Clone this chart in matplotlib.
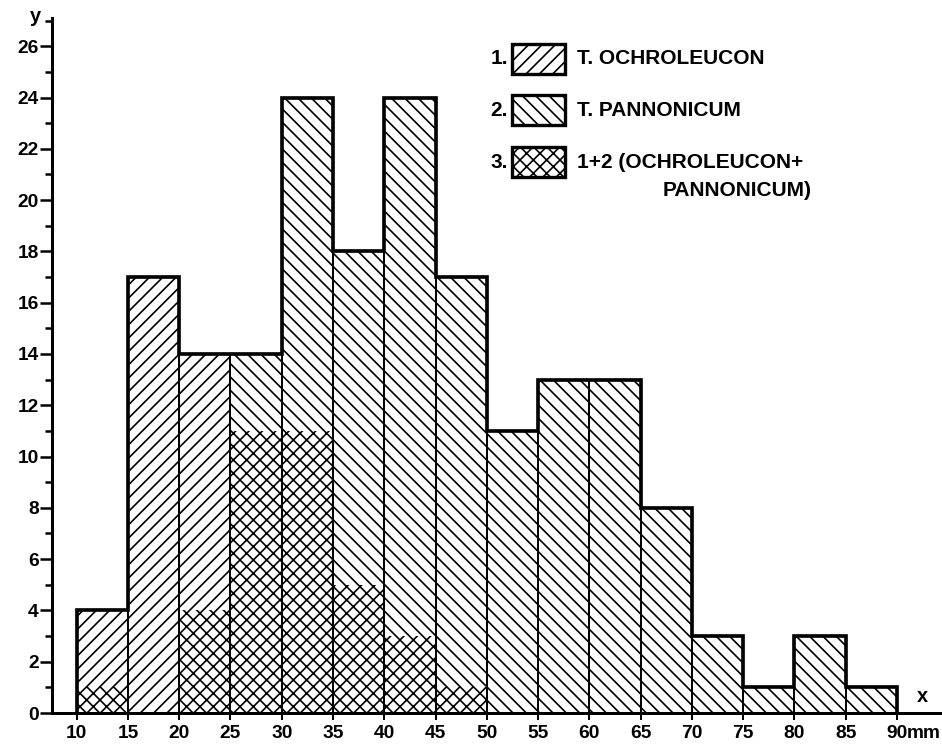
import matplotlib.pyplot as plt
from matplotlib.patches import Rectangle

# bin left edges (mm), total counts, and the overlap part (1+2)
left_edges = [10, 15, 20, 25, 30, 35, 40, 45, 50, 55, 60, 65, 70, 75, 80, 85]
all_edges = [10, 15, 20, 25, 30, 35, 40, 45, 50, 55, 60, 65, 70, 75, 80, 85, 90]
totals = [4, 17, 14, 14, 24, 18, 24, 17, 11, 13, 13, 8, 3, 1, 3, 1]
overlap = [1, 0, 4, 11, 11, 5, 3, 1, 0, 0, 0, 0, 0, 0, 0, 0]
# which species makes up the rest of the bar: 1 = ochroleucon, 2 = pannonicum
species = [1, 1, 1, 2, 2, 2, 2, 2, 2, 2, 2, 2, 2, 2, 2, 2]

xticks = [10, 15, 20, 25, 30, 35, 40, 45, 50, 55, 60, 65, 70, 75, 80, 85, 90]
yticks = [0, 2, 4, 6, 8, 10, 12, 14, 16, 18, 20, 22, 24, 26]

plt.rcParams['font.family'] = ['Liberation Sans', 'DejaVu Sans']
plt.rcParams['font.weight'] = 'bold'
plt.rcParams['hatch.linewidth'] = 1.0

W, H = 942, 748
fig = plt.figure(figsize=(W / 120, H / 120), dpi=120)
fig.patch.set_facecolor('white')


def fx(px):
    return px / W


def fy(py):
    return 1 - py / H


ax = fig.add_axes([fx(52), fy(713), (940 - 52) / W, (713 - 18) / H])

rest = [t - o for t, o in zip(totals, overlap)]
hatches = ['///' if s == 1 else '\\\\\\' for s in species]

ax.bar(left_edges, overlap, width=5, align='edge', color='white',
       edgecolor='black', linewidth=0, hatch='xxx')
for x, r, b, h in zip(left_edges, rest, overlap, hatches):
    ax.bar(x, r, bottom=b, width=5, align='edge', color='white',
           edgecolor='black', linewidth=0, hatch=h)

# thin dividers between bars
ax.bar(left_edges, totals, width=5, align='edge', fill=False,
       edgecolor='black', linewidth=1.2)
# heavy outline
ax.stairs(totals, all_edges, baseline=0, color='black', linewidth=2.2)

ax.set_xlim(7.6, 94.2)
ax.set_ylim(0, 27.1)

for s in ['top', 'right']:
    ax.spines[s].set_visible(False)
for s in ['left', 'bottom']:
    ax.spines[s].set_linewidth(1.8)

ax.set_yticks(yticks)
ax.set_yticklabels([str(v) for v in yticks])
ax.set_yticks([v + 1 for v in yticks[:-1]] + [27], minor=True)
ax.set_xticks(xticks)
ax.set_xticklabels([str(v) for v in xticks])
ax.tick_params(axis='y', which='major', length=7, width=1.5, labelsize=11.5, pad=1)
ax.tick_params(axis='y', which='minor', length=4, width=1.5)
ax.tick_params(axis='x', which='major', length=4, width=1.2, labelsize=11.5, pad=3)

ax.annotate('mm', xy=(90, 0), xycoords='data', xytext=(6, -7),
            textcoords='offset points', ha='left', va='top', fontsize=11.5)

fig.text(fx(35), fy(17), 'y', fontsize=12, ha='center', va='center')
fig.text(fx(922), fy(697), 'x', fontsize=12, ha='center', va='center')

# legend
leg_rows = [
    ('1.', '///', 'T. OCHROLEUCON', 59),
    ('2.', '\\\\\\', 'T. PANNONICUM', 110),
    ('3.', 'xxx', '1+2 (OCHROLEUCON+', 162),
]
for num, hat, label, yc in leg_rows:
    fig.add_artist(Rectangle((fx(512), fy(yc + 15)), 53 / W, 30 / H,
                             transform=fig.transFigure, facecolor='white',
                             edgecolor='black', linewidth=2, hatch=hat))
    fig.text(fx(508), fy(yc), num, fontsize=12.5, ha='right', va='center')
    fig.text(fx(577), fy(yc), label, fontsize=12.5, ha='left', va='center')
fig.text(fx(812), fy(191), 'PANNONICUM)', fontsize=12.5, ha='right', va='center')

fig.savefig('out.png', dpi=120, facecolor='white')
